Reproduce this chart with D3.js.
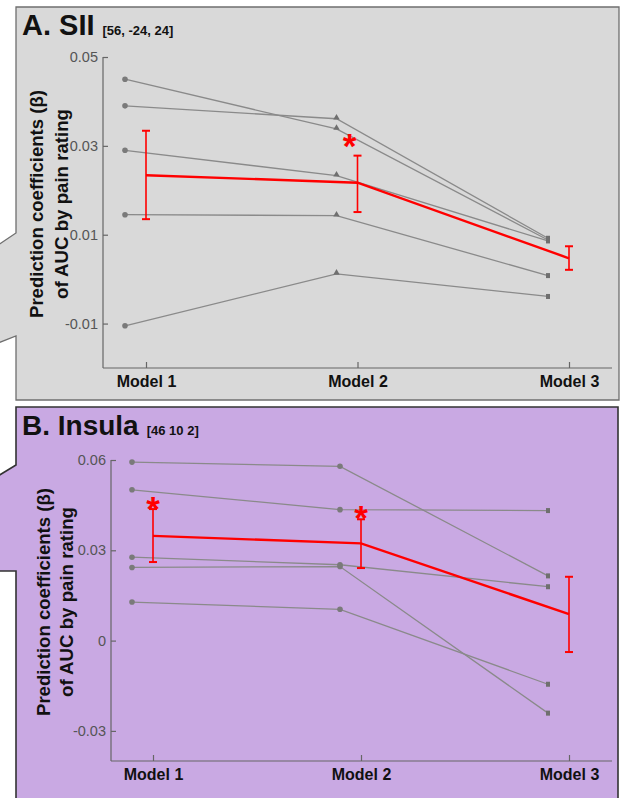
<!DOCTYPE html>
<html>
<head>
<meta charset="utf-8">
<script src="https://cdn.jsdelivr.net/npm/d3@7"></script>
<style>
body { margin: 0; background: #fff; }
svg { display: block; }
</style>
</head>
<body>
<div id="chart"></div>
<script>
// categories and data
var models = ["Model 1", "Model 2", "Model 3"];

// A. SII - individual lines
var siiSubjects = [
    [0.0450, 0.0338, 0.0088],
    [0.0390, 0.0361, 0.0092],
    [0.0290, 0.0233, 0.0086],
    [0.0145, 0.0143, 0.0008],
    [-0.0105, 0.0012, -0.0039]
];
var siiMean = [0.0234, 0.0217, 0.0047];
var siiLow = [0.0135, 0.0151, 0.0021];
var siiHigh = [0.0334, 0.0278, 0.0074];
var siiTicks = [-0.01, 0.01, 0.03, 0.05];
var siiStars = ["Model 2"];

// B. Insula
var insSubjects = [
    [0.0593, 0.0579, 0.0215],
    [0.0501, 0.0435, 0.0432],
    [0.0277, 0.0252, 0.0179],
    [0.0243, 0.0246, -0.0241],
    [0.0128, 0.0104, -0.0145]
];
var insMean = [0.0348, 0.0323, 0.0088];
var insLow = [0.0261, 0.0241, -0.0038];
var insHigh = [0.0437, 0.0403, 0.0212];
var insTicks = [-0.03, 0, 0.03, 0.06];
var insStars = ["Model 1", "Model 2"];

var W = 623, H = 798;
var svg = d3.select("#chart").append("svg")
    .attr("width", W)
    .attr("height", H);

var grayLine = "#8a8a8a";
var red = "#ff0000";

//panel backgrounds (callout shapes)
svg.append("path")
    .attr("d", "M16,7 L619,7 L619,400 L16,400 L16,336 L-2,343 L-2,245 L16,233 Z")
    .attr("fill", "#d9d9d9")
    .attr("stroke", "#6f6f6f")
    .attr("stroke-width", 1.3);

svg.append("path")
    .attr("d", "M16,407 L618,407 L618,800 L16,800 L16,571 L-2,571 L-2,476 L16,465 Z")
    .attr("fill", "#c9a9e3")
    .attr("stroke", "#333")
    .attr("stroke-width", 1.6);

var drawPanel = function(opt) {
    var g = svg.append("g");

    var x = d3.scalePoint()
        .domain(models)
        .range([opt.x0, opt.x0 + 2 * opt.step]);
    var y = d3.scaleLinear()
        .domain(opt.yDomain)
        .range([opt.yBottom, opt.yTop]);
    var off = -21;

    // title
    var t = g.append("text")
        .attr("x", 22)
        .attr("y", opt.titleY)
        .attr("font-family", "Liberation Sans, Arial, sans-serif")
        .attr("font-weight", "bold")
        .attr("fill", "#111");
    t.append("tspan").attr("font-size", opt.titleSize + "px").text(opt.title);
    t.append("tspan").attr("font-size", "13px").attr("dx", 8).text(opt.coord);

    // axes
    var yAxis = d3.axisLeft(y)
        .tickValues(opt.ticks)
        .tickSize(-5)
        .tickPadding(5)
        .tickFormat(function(d) { return String(+d.toFixed(2)); });
    var ya = g.append("g")
        .attr("transform", "translate(" + opt.axisX + ",0)")
        .call(yAxis);
    ya.select(".domain").attr("d", "M0," + opt.yTop + "V" + opt.yBottom);

    var xAxis = d3.axisBottom(x)
        .tickSize(-6)
        .tickPadding(8);
    var xa = g.append("g")
        .attr("transform", "translate(0," + opt.yBottom + ")")
        .call(xAxis);
    xa.select(".domain").attr("d", "M" + opt.axisX + ",0H612");

    ya.selectAll("line, path").attr("stroke", "#666").attr("stroke-width", 1.2);
    xa.selectAll("line, path").attr("stroke", "#666").attr("stroke-width", 1.2);
    ya.selectAll("text")
        .attr("font-family", "Liberation Sans Narrow, Arial Narrow, Liberation Sans, sans-serif")
        .attr("font-size", "14.5px")
        .attr("fill", "#555");
    xa.selectAll("text")
        .attr("font-family", "Liberation Sans, Arial, sans-serif")
        .attr("font-weight", "bold")
        .attr("font-size", "16px")
        .attr("fill", "#111");

    // y label
    var lab = g.append("text")
        .attr("transform", "translate(" + opt.labelX + "," + opt.labelY + ") rotate(-90)")
        .attr("text-anchor", "middle")
        .attr("font-family", "Liberation Sans, Arial, sans-serif")
        .attr("font-weight", "bold")
        .attr("font-size", "19px")
        .attr("fill", "#111");
    lab.append("tspan").attr("x", 0).attr("y", 0)
        .attr("textLength", 228).attr("lengthAdjust", "spacingAndGlyphs")
        .text("Prediction coefficients (\u03b2)");
    lab.append("tspan").attr("x", 0).attr("y", opt.labelGap)
        .attr("textLength", 190).attr("lengthAdjust", "spacingAndGlyphs")
        .text("of AUC by pain rating");

    // subject lines
    var line = d3.line()
        .x(function(d, i) { return x(models[i]) + off; })
        .y(function(d) { return y(d); });

    g.selectAll(".subj")
        .data(opt.subjects)
        .enter()
        .append("path")
        .attr("d", line)
        .attr("fill", "none")
        .attr("stroke", grayLine)
        .attr("stroke-width", 1.3);

    opt.subjects.forEach(function(s) {
        s.forEach(function(v, i) {
            var cx = x(models[i]) + off, cy = y(v);
            var shape = opt.markers[i];
            if (shape === "circle") {
                g.append("circle").attr("cx", cx).attr("cy", cy).attr("r", 2.8).attr("fill", "#7a7a7a");
            } else if (shape === "triangle") {
                g.append("path")
                    .attr("d", d3.symbol().type(d3.symbolTriangle).size(18)())
                    .attr("transform", "translate(" + cx + "," + (cy - 1) + ")")
                    .attr("fill", "#6f6f6f");
            } else {
                g.append("rect").attr("x", cx - 2).attr("y", cy - 2.5).attr("width", 4).attr("height", 5).attr("fill", "#6f6f6f");
            }
        });
    });

    // error bars
    models.forEach(function(m, i) {
        var cx = x(m);
        g.append("line")
            .attr("x1", cx).attr("x2", cx)
            .attr("y1", y(opt.low[i])).attr("y2", y(opt.high[i]))
            .attr("stroke", red).attr("stroke-width", 1.6);
        [opt.low[i], opt.high[i]].forEach(function(v) {
            g.append("line")
                .attr("x1", cx - 4).attr("x2", cx + 4)
                .attr("y1", y(v)).attr("y2", y(v))
                .attr("stroke", red).attr("stroke-width", 2);
        });
    });

    var meanLine = d3.line()
        .x(function(d, i) { return x(models[i]); })
        .y(function(d) { return y(d); });
    g.append("path")
        .datum(opt.mean)
        .attr("d", meanLine)
        .attr("fill", "none")
        .attr("stroke", red)
        .attr("stroke-width", 2.4);

    // significance stars
    opt.stars.forEach(function(m, j) {
        var i = models.indexOf(m);
        g.append("text")
            .attr("x", x(m) + opt.starDx[j])
            .attr("y", y(opt.high[i]) + opt.starDy[j])
            .attr("text-anchor", "middle")
            .attr("font-family", "Liberation Sans, Arial, sans-serif")
            .attr("font-weight", "bold")
            .attr("font-size", "35px")
            .attr("fill", red)
            .text("*");
    });
};

drawPanel({
    title: "A. SII", coord: "[56, -24, 24]", titleY: 35, titleSize: 29,
    x0: 146, step: 211.5, axisX: 103,
    yDomain: [-0.02, 0.05], yTop: 57, yBottom: 368,
    ticks: siiTicks,
    labelX: 43, labelY: 204, labelGap: 25,
    subjects: siiSubjects, mean: siiMean, low: siiLow, high: siiHigh,
    markers: ["circle", "triangle", "square"],
    stars: siiStars, starDx: [-8], starDy: [2]
});

drawPanel({
    title: "B. Insula", coord: "[46 10 2]", titleY: 435, titleSize: 28,
    x0: 153, step: 208, axisX: 111,
    yDomain: [-0.04, 0.06], yTop: 460, yBottom: 761,
    ticks: insTicks,
    labelX: 50, labelY: 602, labelGap: 23,
    subjects: insSubjects, mean: insMean, low: insLow, high: insHigh,
    markers: ["circle", "circle", "square"],
    stars: insStars, starDx: [0, 0], starDy: [12, 11]
});
</script>
</body>
</html>
